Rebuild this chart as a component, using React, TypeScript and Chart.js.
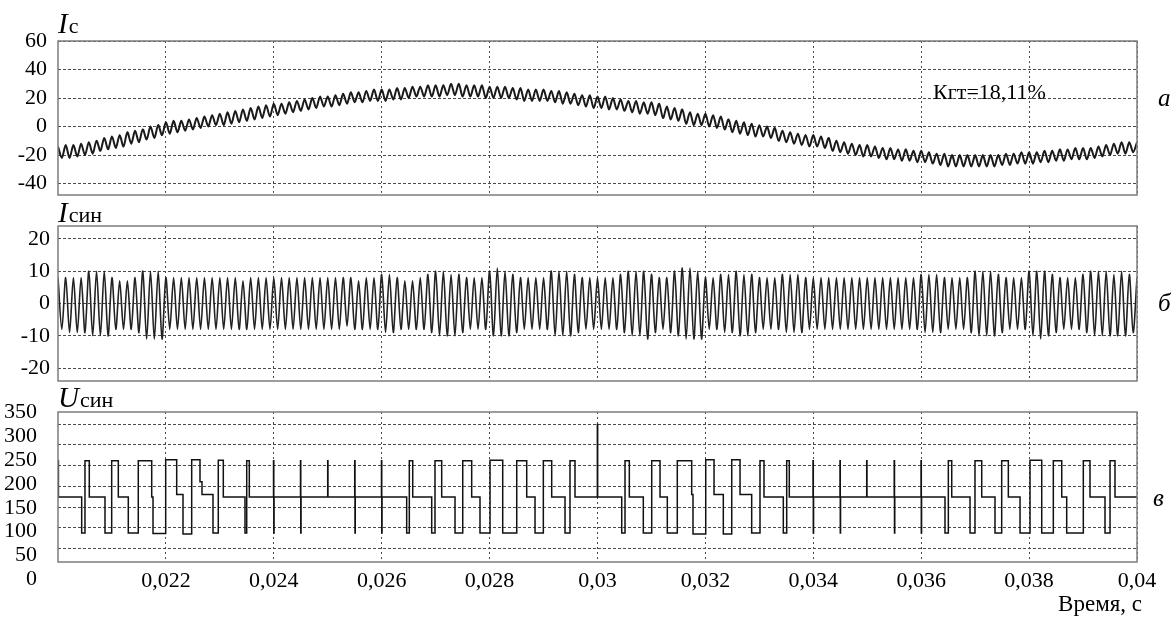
import { useEffect, useRef } from "react";
import { Chart, registerables } from "chart.js";

Chart.register(...registerables);

// ---------- data ----------
const T_MIN = 0.02;
const T_MAX = 0.04;
const TIME_TICKS = [0.022, 0.024, 0.026, 0.028, 0.03, 0.032, 0.034, 0.036, 0.038, 0.04];
const TIME_TICK_LABELS = ["0,022", "0,024", "0,026", "0,028", "0,03", "0,032", "0,034", "0,036", "0,038", "0,04"];

const IC_TICKS = [60, 40, 20, 0, -20, -40];
const ISIN_TICKS = [20, 10, 0, -10, -20];
const USIN_TICKS = [350, 300, 250, 200, 150, 100, 50, 0];
const USIN_GRID = [0, 50, 100, 150, 200, 250, 300];

// Ic, A: successive ripple peaks / troughs, evenly spaced in time from 0.02 s to 0.04 s
const IC_VALUES = [
  -14, -22, -13, -22, -13, -21, -12, -20, -11, -19, -10, -17, -8, -16,
  -7, -15, -6, -14, -4, -12, -3, -11, -2, -9, 0, -8, 1, -6,
  3, -5, 4, -4, 4, -3, 5, -2, 6, -1, 7, 0, 8, 1,
  9, 1, 10, 2, 11, 3, 12, 4, 13, 5, 14, 6, 15, 7,
  16, 8, 16, 9, 17, 10, 18, 11, 19, 12, 20, 13, 21, 14,
  21, 14, 22, 15, 23, 16, 24, 17, 24, 17, 25, 18, 26, 18,
  26, 18, 26, 19, 27, 19, 27, 20, 28, 21, 28, 21, 29, 21,
  29, 21, 29, 22, 30, 22, 30, 21, 29, 21, 29, 21, 29, 20,
  28, 20, 28, 20, 28, 20, 27, 19, 27, 18, 26, 18, 26, 18,
  26, 18, 25, 17, 25, 16, 24, 16, 23, 15, 22, 14, 22, 13,
  21, 13, 21, 12, 20, 12, 19, 11, 18, 10, 18, 9, 17, 9,
  17, 8, 16, 6, 14, 5, 13, 4, 12, 2, 10, 1, 9, 1,
  9, 0, 8, -1, 7, -2, 5, -4, 4, -5, 3, -6, 2, -7,
  1, -7, 0, -8, -1, -10, -3, -11, -4, -12, -5, -13, -6, -14,
  -6, -14, -7, -15, -8, -17, -10, -18, -11, -19, -12, -20, -13, -21,
  -13, -21, -14, -22, -15, -23, -15, -23, -16, -24, -16, -24, -17, -25,
  -17, -25, -18, -26, -19, -27, -19, -28, -20, -28, -20, -28, -20, -28,
  -20, -28, -20, -28, -20, -28, -20, -27, -19, -27, -19, -26, -18, -26,
  -18, -26, -18, -25, -17, -25, -17, -24, -16, -24, -16, -23, -15, -23,
  -15, -23, -15, -22, -14, -21, -13, -20, -12, -19, -11, -19, -11, -18,
  -11,
];

// Iсин, A: successive peaks / troughs, evenly spaced in time
const ISIN_VALUES = [
  8, -8, 8, -9, 8, -9, 8, -9, 10, -10, 10, -10, 10, -10,
  8, -8, 7, -8, 7, -8, 8, -9, 10, -11, 10, -11, 10, -11,
  8, -8, 8, -8, 8, -8, 8, -8, 8, -8, 8, -8, 8, -8,
  8, -8, 8, -8, 8, -8, 7, -8, 8, -8, 8, -8, 8, -8,
  8, -8, 8, -8, 8, -8, 8, -8, 8, -8, 8, -8, 8, -8,
  8, -8, 8, -8, 8, -7, 8, -8, 7, -8, 8, -8, 8, -8,
  9, -9, 9, -9, 8, -8, 7, -8, 7, -8, 8, -8, 9, -9,
  10, -10, 10, -10, 9, -10, 9, -9, 8, -8, 8, -8, 8, -8,
  10, -10, 11, -10, 10, -10, 9, -9, 8, -8, 8, -8, 8, -8,
  8, -8, 10, -10, 10, -10, 10, -10, 9, -9, 8, -8, 8, -8,
  8, -8, 8, -8, 8, -8, 9, -9, 10, -10, 10, -10, 10, -11,
  9, -9, 8, -8, 8, -9, 10, -10, 11, -11, 11, -11, 10, -11,
  8, -8, 8, -8, 9, -9, 9, -9, 10, -10, 9, -10, 9, -9,
  8, -8, 8, -8, 8, -8, 9, -9, 9, -9, 9, -9, 8, -8,
  8, -8, 8, -8, 8, -8, 8, -8, 8, -8, 8, -8, 8, -8,
  8, -8, 8, -8, 8, -8, 8, -8, 8, -8, 8, -8, 8, -8,
  9, -9, 9, -9, 9, -9, 8, -8, 8, -8, 8, -8, 8, -9,
  10, -10, 10, -10, 10, -10, 9, -9, 8, -8, 8, -8, 8, -8,
  10, -10, 10, -11, 10, -10, 9, -9, 8, -8, 8, -8, 8, -8,
  9, -9, 10, -10, 10, -10, 10, -10, 9, -10, 10, -10, 9, -9,
  8,
];

// Uсин, V: switching instants (s) and the level the signal takes at each
const USIN_TIMES = [
  0.02, 0.020008, 0.020439, 0.0205, 0.02058, 0.020871, 0.020995, 0.021118, 0.021303, 0.021488,
  0.021737, 0.021761, 0.021996, 0.0222, 0.022317, 0.022478, 0.022632, 0.022669, 0.022873, 0.022971,
  0.023064, 0.023466, 0.023498, 0.023546, 0.023995, 0.024, 0.024005, 0.024495, 0.0245, 0.024505,
  0.024999, 0.025004, 0.0255, 0.025505, 0.02551, 0.025996, 0.026001, 0.026006, 0.026463, 0.026512,
  0.026575, 0.026927, 0.026988, 0.027112, 0.027359, 0.027502, 0.027668, 0.027822, 0.028008, 0.028243,
  0.028503, 0.028688, 0.028842, 0.028996, 0.029151, 0.029398, 0.02949, 0.029583, 0.029997, 0.030003,
  0.030449, 0.03051, 0.03059, 0.030849, 0.031005, 0.031159, 0.031294, 0.031479, 0.031746, 0.03177,
  0.032006, 0.03216, 0.032332, 0.032488, 0.032642, 0.032858, 0.033012, 0.033086, 0.033444, 0.033507,
  0.033555, 0.033995, 0.034, 0.034005, 0.034495, 0.0345, 0.034505, 0.03499, 0.034995, 0.0355,
  0.035505, 0.03551, 0.035997, 0.036002, 0.036007, 0.036441, 0.036503, 0.036566, 0.036905, 0.036997,
  0.037122, 0.037368, 0.037492, 0.037615, 0.037832, 0.038017, 0.038234, 0.038449, 0.038605, 0.038697,
  0.039005, 0.039129, 0.039407, 0.0395, 0.039592, 0.04,
];
const USIN_VALUES = [
  249, 173, 97, 249, 173, 97, 249, 173, 97, 249,
  173, 96, 251, 178, 95, 251, 205, 178, 97, 250,
  173, 97, 249, 173, 249, 97, 173, 249, 97, 173,
  249, 173, 249, 97, 173, 249, 97, 173, 97, 249,
  173, 97, 249, 173, 97, 249, 173, 97, 250, 97,
  249, 173, 97, 249, 173, 97, 249, 173, 325, 173,
  97, 249, 173, 97, 249, 173, 97, 249, 178, 95,
  251, 178, 95, 251, 178, 97, 249, 173, 97, 249,
  173, 249, 97, 173, 249, 97, 173, 249, 173, 249,
  97, 173, 249, 97, 173, 97, 249, 173, 97, 249,
  173, 97, 249, 173, 97, 250, 97, 249, 173, 97,
  249, 173, 97, 249, 173, 173,
];

// ---------- styles ----------
const FONT_FAMILY = "'Liberation Serif', 'Times New Roman', Times, serif";
const TICK_FONT = { family: FONT_FAMILY, size: 22 };
const GRID_COLOR = "#4a4a4a";
const FRAME_COLOR = "#7c7c7c";
const W = 1175;

function sampled(values: number[]) {
  const n = values.length - 1;
  return values.map((v, i) => ({ x: T_MIN + ((T_MAX - T_MIN) * i) / n, y: v }));
}

function panelPlugin(t: any) {
  return {
    id: "panelText",
    afterDraw(chart: any) {
      const { ctx, chartArea } = chart;
      ctx.save();
      ctx.setLineDash([]);
      ctx.strokeStyle = FRAME_COLOR;
      ctx.lineWidth = 1.5;
      ctx.strokeRect(chartArea.left, chartArea.top, chartArea.right - chartArea.left, chartArea.bottom - chartArea.top);
      ctx.fillStyle = "#000";
      ctx.textBaseline = "alphabetic";
      ctx.textAlign = "left";
      ctx.font = `italic 29px ${FONT_FAMILY}`;
      ctx.fillText(t.main, chartArea.left, t.titleY);
      const w = ctx.measureText(t.main).width;
      ctx.font = `22px ${FONT_FAMILY}`;
      ctx.fillText(t.sub, chartArea.left + w + 1, t.titleY);
      ctx.font = `italic 25px ${FONT_FAMILY}`;
      ctx.fillText(t.side, chartArea.right + t.sideDx, t.sideY);
      if (t.note) {
        const x = chart.scales.x.getPixelForValue(t.note.x);
        const y = chart.scales.y.getPixelForValue(t.note.y);
        ctx.font = `22px ${FONT_FAMILY}`;
        ctx.fillText(t.note.text, x, y);
      }
      if (t.axisTitle) {
        ctx.font = `23px ${FONT_FAMILY}`;
        ctx.textAlign = "right";
        ctx.fillText(t.axisTitle, chartArea.right + 5, chartArea.bottom + 49);
      }
      ctx.restore();
    },
  };
}

function xScale(showLabels: boolean) {
  return {
    type: "linear",
    min: T_MIN,
    max: T_MAX,
    afterBuildTicks: (s: any) => {
      s.ticks = TIME_TICKS.map((v) => ({ value: v }));
    },
    afterFit: (s: any) => {
      s.height = showLabels ? 56 : 5;
      s.paddingLeft = 0;
      s.paddingRight = 0;
    },
    ticks: {
      display: showLabels,
      autoSkip: false,
      maxRotation: 0,
      padding: 6,
      color: "#000",
      font: TICK_FONT,
      callback: (_v: any, i: number) => TIME_TICK_LABELS[i],
    },
    grid: { color: GRID_COLOR, lineWidth: 1, drawTicks: false },
    border: { display: false, dash: [2, 3] },
  };
}

function yScale(min: number, max: number, ticks: number[], pad: number, showGrid: boolean) {
  return {
    min,
    max,
    afterBuildTicks: (s: any) => {
      s.ticks = ticks.map((v) => ({ value: v }));
    },
    afterFit: (s: any) => {
      s.width = 58;
      s.paddingTop = 0;
      s.paddingBottom = 0;
    },
    ticks: { color: "#000", font: TICK_FONT, padding: pad, autoSkip: false },
    grid: showGrid ? { color: GRID_COLOR, lineWidth: 1, drawTicks: false } : { display: false },
    border: { display: false, dash: [3, 2] },
  };
}

function baseOptions(scales: any, padTop: number) {
  return {
    responsive: false,
    maintainAspectRatio: false,
    animation: false,
    devicePixelRatio: 1,
    events: [],
    layout: { padding: { left: 0, right: 38, top: padTop, bottom: 0 } },
    plugins: { legend: { display: false }, tooltip: { enabled: false }, title: { display: false } },
    elements: { point: { radius: 0 } },
    scales,
  };
}

export default function App() {
  const refA = useRef<HTMLCanvasElement>(null);
  const refB = useRef<HTMLCanvasElement>(null);
  const refC = useRef<HTMLCanvasElement>(null);

  useEffect(() => {
    const charts: Chart[] = [];

    charts.push(
      new Chart(refA.current as HTMLCanvasElement, {
        type: "line",
        data: {
          datasets: [
            { data: sampled(IC_VALUES), borderColor: "#1a1a1a", borderWidth: 2, pointRadius: 0, tension: 0.3 },
          ],
        },
        options: baseOptions({ x: xScale(false), y: yScale(-48, 60, IC_TICKS, 11, true) }, 41) as any,
        plugins: [
          panelPlugin({
            main: "I",
            sub: "с",
            titleY: 33,
            side: "а",
            sideDx: 21,
            sideY: 106,
            note: { text: "Кгт=18,11%", x: 0.03622, y: 19.5 },
          }),
        ],
      } as any)
    );

    charts.push(
      new Chart(refB.current as HTMLCanvasElement, {
        type: "line",
        data: {
          datasets: [
            { data: sampled(ISIN_VALUES), borderColor: "#222", borderWidth: 1.6, pointRadius: 0, tension: 0.3 },
          ],
        },
        options: baseOptions({ x: xScale(false), y: yScale(-24, 24, ISIN_TICKS, 8, true) }, 26) as any,
        plugins: [panelPlugin({ main: "I", sub: "син", titleY: 22, side: "б", sideDx: 21, sideY: 111 })],
      } as any)
    );

    charts.push(
      new Chart(refC.current as HTMLCanvasElement, {
        type: "line",
        data: {
          datasets: [
            {
              data: USIN_TIMES.map((t, i) => ({ x: t, y: USIN_VALUES[i] })),
              borderColor: "#111",
              borderWidth: 1.5,
              pointRadius: 0,
              stepped: "before",
              yAxisID: "y",
            },
          ],
        },
        options: baseOptions(
          {
            x: xScale(true),
            y: yScale(36.3, 351.5, USIN_TICKS, 13, false),
            yg: {
              position: "right",
              min: -32.4,
              max: 329,
              afterBuildTicks: (s: any) => {
                s.ticks = USIN_GRID.map((v) => ({ value: v }));
              },
              afterFit: (s: any) => {
                s.width = 0;
                s.paddingTop = 0;
                s.paddingBottom = 0;
              },
              ticks: { display: false },
              grid: { color: GRID_COLOR, lineWidth: 1, drawTicks: false },
              border: { display: false, dash: [3, 2] },
            },
          },
          26
        ) as any,
        plugins: [
          panelPlugin({ main: "U", sub: "син", titleY: 21, side: "в", sideDx: 16, sideY: 120, axisTitle: "Время, с" }),
        ],
      } as any)
    );

    return () => charts.forEach((c) => c.destroy());
  }, []);

  return (
    <div style={{ position: "absolute", left: 0, top: 0, width: W, height: 618, background: "#fff" }}>
      <canvas ref={refA} width={W} height={200} style={{ position: "absolute", left: 0, top: 0 }} />
      <canvas ref={refB} width={W} height={186} style={{ position: "absolute", left: 0, top: 200 }} />
      <canvas ref={refC} width={W} height={232} style={{ position: "absolute", left: 0, top: 386 }} />
    </div>
  );
}
